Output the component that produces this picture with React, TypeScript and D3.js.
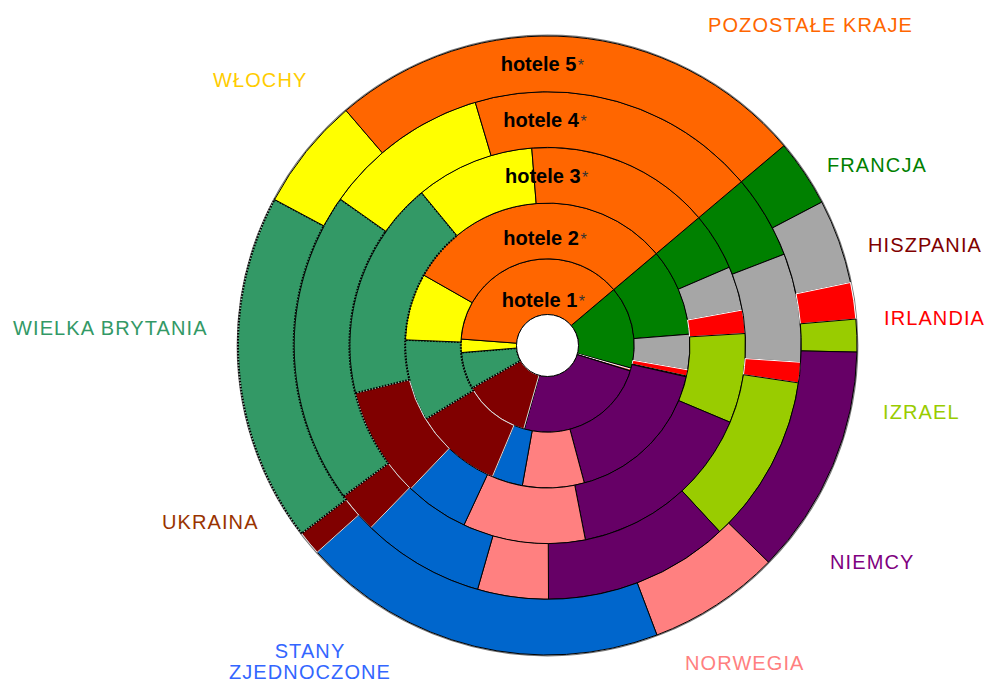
import React from 'react';
import * as d3 from 'd3';

// ---- data ----
const categories = [
  'FRANCJA', 'HISZPANIA', 'IRLANDIA', 'IZRAEL', 'NIEMCY', 'NORWEGIA',
  'STANY ZJEDNOCZONE', 'UKRAINA', 'WIELKA BRYTANIA', 'WŁOCHY', 'POZOSTAŁE KRAJE',
];
const seriesNames = ['hotele 1', 'hotele 2', 'hotele 3', 'hotele 4', 'hotele 5'];
// shares (%) per category, in category order
const hotele1 = [15.4, 0.2, 0.3, 0.05, 24.6, 0.05, 0.05, 12.4, 6.9, 2.5, 37.7];
const hotele2 = [9.9, 4.0, 0.7, 0.1, 17.3, 7.0, 3.5, 10.0, 9.3, 7.6, 30.6];
const hotele3 = [4.7, 3.6, 1.9, 7.3, 15.6, 10.0, 5.2, 9.0, 17.9, 9.7, 15.1];
const hotele4 = [5.3, 6.9, 1.3, 10.75, 11.8, 4.5, 7.8, 2.6, 19.9, 10.6, 18.4];
const hotele5 = [3.5, 4.4, 1.9, 1.7, 12.0, 6.9, 19.1, 1.25, 18.2, 5.9, 25.1];
const seriesValues = [hotele1, hotele2, hotele3, hotele4, hotele5];

// ---- styles ----
const fillColors = ['#008000', '#A6A6A6', '#FF0000', '#99CC00', '#660066', '#FF8080',
  '#0066CC', '#800000', '#339966', '#FFFF00', '#FF6600'];
const labelColors = ['#008000', '#800000', '#FF0000', '#99CC00', '#800080', '#FF8080',
  '#3366FF', '#993300', '#339966', '#FFCC00', '#FF6600'];
const strokeColors = ['#000', '#000', '#fff', '#000', '#000', '#000',
  '#000', '#d9d9d9', '#000', '#000', '#000'];
const strokeDash = ['', '', '', '', '', '', '', '', '1.6,1.4', '', ''];
// category label layout: [x, baseline y]
const labelPos: [number, number][] = [
  [827, 171.5], [868, 252.3], [884, 325], [883, 419.3], [830, 569.3], [685, 670],
  [310, 658], [162, 529.3], [13, 335], [213, 87.3], [708, 31.7],
];
// series label layout: [x, baseline y]
const seriesLabelPos: [number, number][] = [
  [501.7, 307.3], [503.3, 245], [505, 183.3], [503.3, 126.7], [500.7, 70.7],
];

const W = 984;
const H = 683;
const cx = 547.5;
const cy = 345.5;
const holeR = 31;
const outerR = 309.5;
const startAngle = (49.8 * Math.PI) / 180;

export default function App() {
  const radius = d3.scaleLinear().domain([0, seriesNames.length]).range([holeR, outerR]);
  const pie = d3
    .pie<number>()
    .sort(null)
    .value((d) => d)
    .startAngle(startAngle)
    .endAngle(startAngle + 2 * Math.PI);

  const font = '"Liberation Sans", Arial, sans-serif';

  return (
    <svg
      width={W}
      height={H}
      style={{ position: 'absolute', left: 0, top: 0, background: '#fff' }}
    >
      <g transform={`translate(${cx},${cy})`}>
        <circle r={outerR + 0.8} fill="none" stroke="#777" strokeWidth={1.2} />
        {seriesValues.map((vals, ri) => {
          const arc = d3
            .arc<d3.PieArcDatum<number>>()
            .innerRadius(radius(ri))
            .outerRadius(radius(ri + 1));
          const arcs = pie(vals);
          return (
            <g key={ri}>
              {arcs.map((a, ci) => (
                <path
                  key={ci}
                  d={arc(a) || ''}
                  fill={fillColors[ci]}
                  stroke={strokeColors[ci]}
                  strokeWidth={ci === 8 ? 2 : 1}
                  strokeDasharray={strokeDash[ci] || undefined}
                  strokeLinejoin="miter"
                />
              ))}
            </g>
          );
        })}
        <circle r={holeR} fill="#fff" stroke="#000" strokeWidth={1} />
      </g>
      {seriesNames.map((s, i) => (
        <text
          key={s}
          x={seriesLabelPos[i][0]}
          y={seriesLabelPos[i][1]}
          fontFamily={font}
          fontSize={20}
          fontWeight="bold"
          fill="#000"
        >
          {s}
          <tspan dx={1.5} fontSize={16} fontWeight="normal" fill="#333">*</tspan>
        </text>
      ))}
      {categories.map((c, i) => {
        if (c === 'STANY ZJEDNOCZONE') {
          const parts = c.split(' ');
          return (
            <text
              key={c}
              x={labelPos[i][0]}
              y={labelPos[i][1]}
              fontFamily={font}
              fontSize={20}
              letterSpacing={1.1}
              fill={labelColors[i]}
              textAnchor="middle"
            >
              {parts.map((p, k) => (
                <tspan key={k} x={labelPos[i][0]} dy={k === 0 ? 0 : 21}>
                  {p}
                </tspan>
              ))}
            </text>
          );
        }
        return (
          <text
            key={c}
            x={labelPos[i][0]}
            y={labelPos[i][1]}
            fontFamily={font}
            fontSize={20}
            letterSpacing={1.1}
            fill={labelColors[i]}
          >
            {c}
          </text>
        );
      })}
    </svg>
  );
}
